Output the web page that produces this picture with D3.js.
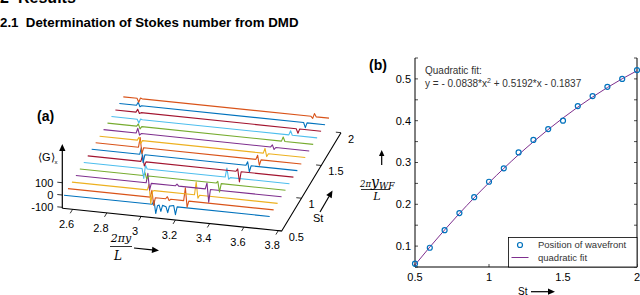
<!DOCTYPE html>
<html>
<head>
<meta charset="utf-8">
<script src="https://cdn.jsdelivr.net/npm/d3@7"></script>
<style>
  body { margin: 0; background: #fff; }
  svg { display: block; font-family: "Liberation Sans", Arial, sans-serif; }
</style>
</head>
<body>
<div id="chart"></div>
<script>
  // ---- data ----
  var stValues = [0.5, 0.6, 0.7, 0.8, 0.9, 1.0, 1.1, 1.2, 1.3, 1.4, 1.5, 1.6, 1.7, 1.8, 1.9, 2.0];
  var wavefront = [0.058, 0.096, 0.138, 0.179, 0.217, 0.254, 0.286, 0.324, 0.354, 0.380, 0.400, 0.435, 0.459, 0.481, 0.500, 0.521];
  var fitValues = [0.0550, 0.0977, 0.1387, 0.1781, 0.2157, 0.2517, 0.2859, 0.3187, 0.3496, 0.3789, 0.4065, 0.4325, 0.4568, 0.4794, 0.5003, 0.5195];

  var fitTicksY = [0.05, 0.1, 0.15, 0.2, 0.25, 0.3, 0.35, 0.4, 0.45, 0.5, 0.55];
  var fitLabelsY = [0.1, 0.2, 0.3, 0.4, 0.5];
  var fitTicksX = [0.5, 1, 1.5, 2];

  var posTicks = [2.6, 2.8, 3, 3.2, 3.4, 3.6, 3.8];
  var stTicks = [0.5, 1, 1.5, 2];
  var gTicks = [-100, 0, 100];

  var traceColors = ["#0072BD", "#D95319", "#EDB120", "#7E2F8E", "#77AC30", "#4DBEEE", "#A2142F"];

  // <G>_x profiles, one per St value: [2*pi*y/L, G]
  var traces = [
    [[2.55,0],[3.065,0],[3.075,35],[3.085,-72],[3.095,-8],[3.105,0],[3.115,-50],[3.125,0],[3.145,-8],[3.155,-55],[3.165,0],[3.19,8],[3.2,-65],[3.21,0],[3.75,0]],
    [[2.55,0],[3.03,0],[3.04,58],[3.05,-65],[3.06,0],[3.12,0],[3.13,18],[3.14,-12],[3.15,0],[3.225,0],[3.235,105],[3.245,-50],[3.255,0],[3.75,0]],
    [[2.55,0],[2.99,0],[3.0,45],[3.01,-110],[3.02,-8],[3.03,0],[3.265,0],[3.275,105],[3.285,-25],[3.295,0],[3.75,0]],
    [[2.55,0],[2.96,0],[2.97,78],[2.98,-57],[2.99,0],[3.13,0],[3.14,15],[3.15,0],[3.305,0],[3.315,50],[3.325,-105],[3.335,0],[3.75,0]],
    [[2.55,0],[2.92,0],[2.93,25],[2.94,-25],[2.95,0],[3.345,0],[3.355,15],[3.365,-70],[3.375,0],[3.75,0]],
    [[2.55,0],[2.89,0],[2.9,-80],[2.91,30],[2.92,0],[3.375,0],[3.385,75],[3.395,-15],[3.405,0],[3.75,0]],
    [[2.55,0],[2.86,0],[2.87,50],[2.88,-35],[2.89,0],[3.415,0],[3.425,20],[3.435,-85],[3.445,0],[3.75,0]],
    [[2.55,0],[2.83,0],[2.84,55],[2.85,-65],[2.86,0],[3.45,0],[3.46,30],[3.47,-50],[3.48,0],[3.75,0]],
    [[2.55,0],[2.8,0],[2.81,80],[2.82,-50],[2.83,0],[3.485,0],[3.495,35],[3.505,-45],[3.515,0],[3.75,0]],
    [[2.55,0],[2.77,0],[2.78,25],[2.79,-25],[2.8,0],[3.505,0],[3.515,40],[3.525,-25],[3.535,0],[3.75,0]],
    [[2.55,0],[2.74,0],[2.75,40],[2.76,-15],[2.77,0],[3.525,0],[3.535,18],[3.545,-18],[3.555,0],[3.75,0]],
    [[2.55,0],[2.72,0],[2.73,20],[2.74,-20],[2.75,0],[3.565,0],[3.575,35],[3.585,0],[3.75,0]],
    [[2.55,0],[2.7,0],[2.71,-30],[2.72,5],[2.73,0],[3.585,0],[3.595,35],[3.605,0],[3.75,0]],
    [[2.55,0],[2.67,0],[2.68,25],[2.69,-8],[2.7,0],[3.605,0],[3.615,-35],[3.625,0],[3.75,0]],
    [[2.55,0],[2.65,0],[2.66,25],[2.67,-10],[2.68,0],[3.625,0],[3.635,-40],[3.645,0],[3.75,0]],
    [[2.55,0],[2.63,0],[2.64,-30],[2.65,5],[2.66,0],[3.645,0],[3.655,-15],[3.665,25],[3.675,0],[3.75,0]]
  ];

  var svgWidth = 640;
  var svgHeight = 295;

  var svg = d3.select("#chart")
    .append("svg")
    .attr("width", svgWidth)
    .attr("height", svgHeight);

  // small helper for filled arrows
  function arrow(g, x1, y1, x2, y2, head) {
    var a = Math.atan2(y2 - y1, x2 - x1);
    var hl = head || 6, hw = hl * 0.45;
    var bx = x2 - hl * Math.cos(a), by = y2 - hl * Math.sin(a);
    g.append("line")
      .attr("x1", x1).attr("y1", y1).attr("x2", bx).attr("y2", by)
      .attr("stroke", "#000").attr("stroke-width", 1.2);
    g.append("path")
      .attr("d", "M" + x2 + "," + y2 +
        "L" + (bx + hw * Math.sin(a)) + "," + (by - hw * Math.cos(a)) +
        "L" + (bx - hw * Math.sin(a)) + "," + (by + hw * Math.cos(a)) + "Z")
      .attr("fill", "#000");
  }

  // ---- headings ----
  svg.append("text").attr("x", 0).attr("y", 3)
    .attr("font-size", 16).attr("font-weight", "bold").text("2");
  svg.append("text").attr("x", 18).attr("y", 3)
    .attr("font-size", 16).attr("font-weight", "bold").text("Results");
  svg.append("text").attr("x", 0).attr("y", 26.5)
    .attr("font-size", 13.3).attr("font-weight", "bold")
    .attr("xml:space", "preserve")
    .text("2.1  Determination of Stokes number from DMD");

  // ================= (a) waterfall plot =================
  var posScale = d3.scaleLinear().domain([2.54, 3.82]).range([0, 1]);
  var depthScale = d3.scaleLinear().domain([0.5, 2]).range([0, 1]);
  var gScale = d3.scaleLinear().domain([-108, 400]).range([0, 62.5]);

  var origin = [62.3, 208.3];
  var axVec = [219.4, 22.7];
  var depVec = [59.3, -98.3];

  function project(x, st, g) {
    var u = posScale(x), v = depthScale(st);
    return [origin[0] + u * axVec[0] + v * depVec[0],
            origin[1] + u * axVec[1] + v * depVec[1] - gScale(g)];
  }

  var plotA = svg.append("g");

  traces.forEach(function(tr, i) {
    var st = stValues[i];
    var line = d3.line()
      .x(d => project(d[0], st, d[1])[0])
      .y(d => project(d[0], st, d[1])[1]);
    plotA.append("path")
      .datum(tr)
      .attr("d", line)
      .attr("fill", "none")
      .attr("stroke", traceColors[i % traceColors.length])
      .attr("stroke-width", 1.1)
      .attr("stroke-linejoin", "round");
  });

  var gMin = gScale.domain()[0];
  var a0 = project(2.54, 0.5, gMin), a1 = project(3.82, 0.5, gMin), a2 = project(3.82, 2, gMin);

  // floor axes
  plotA.append("path")
    .attr("d", "M" + a0 + "L" + a1 + "L" + a2)
    .attr("fill", "none").attr("stroke", "#000").attr("stroke-width", 1.1);

  // vertical axis with arrow
  var gAxisTop = project(2.54, 0.5, 415);
  arrow(plotA, a0[0], a0[1], gAxisTop[0], gAxisTop[1], 7);

  // x ticks
  posTicks.forEach(function(t) {
    var p = project(t, 0.5, gMin), q = project(t, 0.44, gMin);
    plotA.append("line").attr("x1", p[0]).attr("y1", p[1]).attr("x2", q[0]).attr("y2", q[1])
      .attr("stroke", "#000").attr("stroke-width", 0.8);
    plotA.append("text")
      .attr("x", p[0] - 6).attr("y", p[1] + 15).attr("dy", "0.35em")
      .attr("text-anchor", "middle").attr("font-size", 11)
      .text(t);
  });

  // St ticks
  stTicks.forEach(function(t) {
    var p = project(3.82, t, gMin), q = project(3.79, t, gMin);
    plotA.append("line").attr("x1", p[0]).attr("y1", p[1]).attr("x2", q[0]).attr("y2", q[1])
      .attr("stroke", "#000").attr("stroke-width", 0.8);
    plotA.append("text")
      .attr("x", p[0] + 7).attr("y", p[1] + 6).attr("dy", "0.35em")
      .attr("font-size", 11)
      .text(t);
  });

  // G ticks
  gTicks.forEach(function(t) {
    var p = project(2.54, 0.5, t);
    plotA.append("line").attr("x1", p[0]).attr("y1", p[1]).attr("x2", p[0] - 5).attr("y2", p[1] - 0.5)
      .attr("stroke", "#000").attr("stroke-width", 0.8);
    plotA.append("text")
      .attr("x", p[0] - 9).attr("y", p[1]).attr("dy", "0.35em")
      .attr("text-anchor", "end").attr("font-size", 11)
      .text(t);
  });

  // labels
  plotA.append("text").attr("x", 37).attr("y", 121)
    .attr("font-size", 14).attr("font-weight", "bold").text("(a)");

  var gLab = plotA.append("text").attr("x", 38).attr("y", 161).attr("font-size", 11);
  gLab.append("tspan").text("\u27E8G\u27E9");
  gLab.append("tspan").attr("font-size", 6).attr("dy", 3).text("x");

  var serif = "'DejaVu Serif', 'Liberation Serif', serif";
  plotA.append("text").attr("x", 121).attr("y", 242)
    .attr("text-anchor", "middle").attr("font-family", serif).attr("font-style", "italic")
    .attr("font-size", 11).text("2\u03C0y");
  plotA.append("line").attr("x1", 110).attr("x2", 132).attr("y1", 246.5).attr("y2", 246.5)
    .attr("stroke", "#000").attr("stroke-width", 0.8);
  plotA.append("text").attr("x", 118).attr("y", 260)
    .attr("text-anchor", "middle").attr("font-family", serif).attr("font-style", "italic")
    .attr("font-size", 12).text("L");
  arrow(plotA, 134, 248, 159, 250.5, 7);

  plotA.append("text").attr("x", 313).attr("y", 222).attr("font-size", 11).text("St");
  arrow(plotA, 320, 212, 332.5, 190.5, 7);

  // ================= (b) wavefront position =================
  var bLeft = 415, bRight = 637, bTop = 58, bBottom = 267;

  var xScale = d3.scaleLinear().domain([0.5, 2]).range([bLeft, bRight]);
  var yScale = d3.scaleLinear().domain([0.05, 0.55]).range([bBottom, bTop]);

  var plotB = svg.append("g");

  plotB.append("path")
    .attr("d", "M" + bLeft + "," + bTop + "V" + bBottom + "H" + bRight + "V" + bTop)
    .attr("fill", "none").attr("stroke", "#000").attr("stroke-width", 1);

  fitTicksY.forEach(function(t) {
    plotB.append("line").attr("x1", bLeft).attr("x2", bLeft + 3)
      .attr("y1", yScale(t)).attr("y2", yScale(t)).attr("stroke", "#000").attr("stroke-width", 0.7);
    plotB.append("line").attr("x1", bRight).attr("x2", bRight - 3)
      .attr("y1", yScale(t)).attr("y2", yScale(t)).attr("stroke", "#000").attr("stroke-width", 0.7);
  });
  fitLabelsY.forEach(function(t) {
    plotB.append("text").attr("x", bLeft - 4).attr("y", yScale(t)).attr("dy", "0.35em")
      .attr("text-anchor", "end").attr("font-size", 11).text(t);
  });
  fitTicksX.forEach(function(t) {
    plotB.append("line").attr("x1", xScale(t)).attr("x2", xScale(t))
      .attr("y1", bBottom).attr("y2", bBottom - 3).attr("stroke", "#000").attr("stroke-width", 0.7);
    plotB.append("text").attr("x", xScale(t)).attr("y", 277).attr("dy", "0.35em")
      .attr("text-anchor", "middle").attr("font-size", 11).text(t);
  });

  // fit curve
  var fitLine = d3.line()
    .x((d, i) => xScale(stValues[i]))
    .y(d => yScale(d))
    .curve(d3.curveMonotoneX);
  plotB.append("path")
    .datum(fitValues)
    .attr("d", fitLine)
    .attr("fill", "none").attr("stroke", "#7E2F8E").attr("stroke-width", 1);

  // measured points
  plotB.selectAll("circle.pt")
    .data(wavefront)
    .enter()
    .append("circle")
    .attr("class", "pt")
    .attr("cx", (d, i) => xScale(stValues[i]))
    .attr("cy", d => yScale(d))
    .attr("r", 2.5)
    .attr("fill", "none")
    .attr("stroke", "#0072BD")
    .attr("stroke-width", 1.2);

  // annotation
  plotB.append("text").attr("x", 425).attr("y", 73.5)
    .attr("font-size", 10).attr("fill", "#333").text("Quadratic fit:");
  var eq = plotB.append("text").attr("x", 425).attr("y", 87)
    .attr("font-size", 10).attr("fill", "#333").attr("xml:space", "preserve");
  eq.append("tspan").text("y = - 0.0838*x");
  eq.append("tspan").attr("font-size", 7).attr("dy", -4).text("2");
  eq.append("tspan").attr("dy", 4).text(" + 0.5192*x - 0.1837");

  // legend
  plotB.append("rect")
    .attr("x", 508.5).attr("y", 237.5).attr("width", bRight - 508.5).attr("height", bBottom - 237.5)
    .attr("fill", "#fff").attr("stroke", "#000").attr("stroke-width", 0.8);
  plotB.append("circle").attr("cx", 520).attr("cy", 245).attr("r", 2.5)
    .attr("fill", "none").attr("stroke", "#0072BD").attr("stroke-width", 1.2);
  plotB.append("text").attr("x", 538).attr("y", 245).attr("dy", "0.35em")
    .attr("font-size", 9.5).attr("fill", "#333").text("Position of wavefront");
  plotB.append("line").attr("x1", 511.5).attr("x2", 528.5).attr("y1", 257.5).attr("y2", 257.5)
    .attr("stroke", "#7E2F8E").attr("stroke-width", 1);
  plotB.append("text").attr("x", 538).attr("y", 257.5).attr("dy", "0.35em")
    .attr("font-size", 9.5).attr("fill", "#333").text("quadratic fit");

  plotB.append("text").attr("x", 369).attr("y", 70)
    .attr("font-size", 14).attr("font-weight", "bold").text("(b)");

  // y label
  var yl = plotB.append("text").attr("x", 360).attr("y", 187)
    .attr("font-family", serif).attr("font-style", "italic");
  yl.append("tspan").attr("font-size", 8.5).text("2\u03C0");
  yl.append("tspan").attr("font-size", 14).text("y");
  yl.append("tspan").attr("font-size", 9).attr("dy", 2).text("WF");
  plotB.append("line").attr("x1", 361).attr("x2", 390).attr("y1", 189.5).attr("y2", 189.5)
    .attr("stroke", "#000").attr("stroke-width", 0.8);
  plotB.append("text").attr("x", 377).attr("y", 200)
    .attr("text-anchor", "middle").attr("font-family", serif).attr("font-style", "italic")
    .attr("font-size", 11).text("L");
  arrow(plotB, 381.7, 165, 381.7, 150, 6);

  plotB.append("text").attr("x", 518).attr("y", 294.5).attr("font-size", 10).text("St");
  arrow(plotB, 531, 291.7, 555, 291.7, 7);
</script>
</body>
</html>
